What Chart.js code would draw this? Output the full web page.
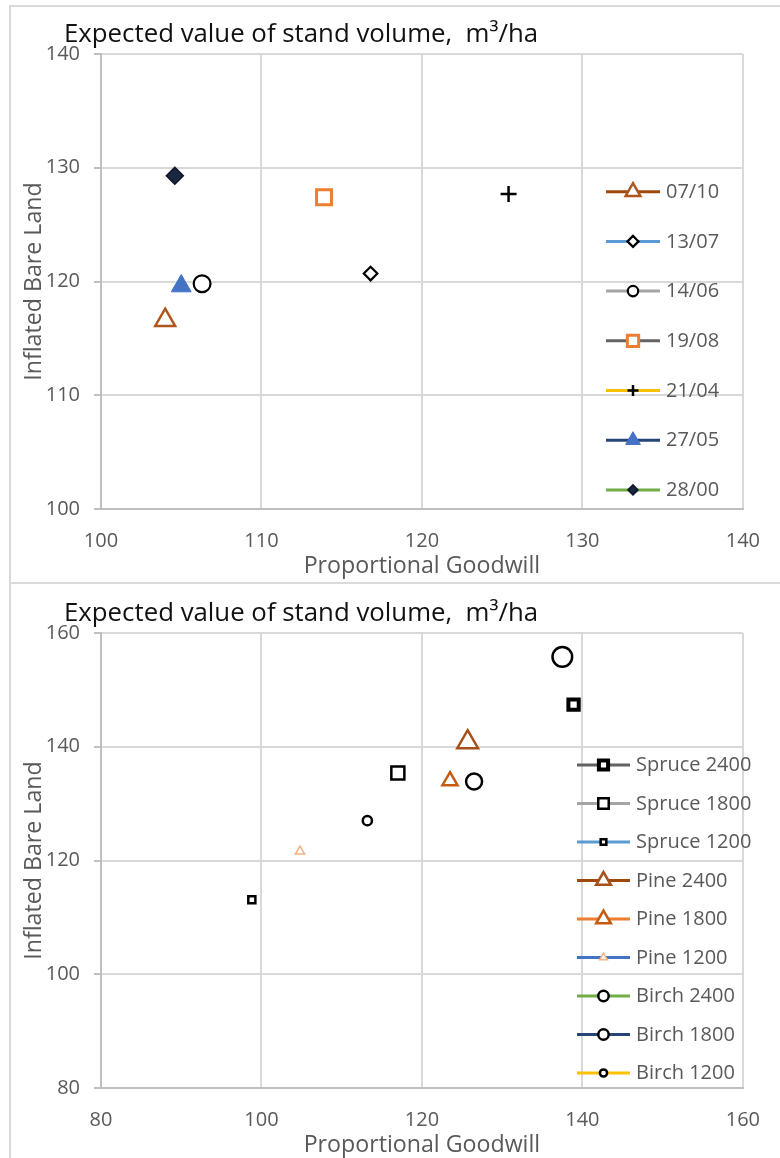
<!DOCTYPE html>
<html>
<head>
<meta charset="utf-8">
<script src="https://cdn.jsdelivr.net/npm/chart.js@4.4.1/dist/chart.umd.min.js"></script>
<style>
  html, body { margin: 0; padding: 0; background: #ffffff; width: 780px; height: 1158px; overflow: hidden; }
  .rule { position: absolute; background: #d9d9d9; }
  .panel { position: absolute; left: 0; width: 780px; height: 583px; }
</style>
</head>
<body>
<div class="rule" style="left:9px;top:5px;width:771px;height:2px"></div>
<div class="rule" style="left:9px;top:5px;width:2px;height:1153px"></div>
<div class="rule" style="left:9px;top:582px;width:771px;height:2px"></div>
<div class="panel" style="top:0"><canvas id="datesChart" width="780" height="583"></canvas></div>
<div class="panel" style="top:579px"><canvas id="standsChart" width="780" height="583"></canvas></div>
<script>
// Upper panel: stand by date
const dateLabels   = ['07/10', '13/07', '14/06', '19/08', '21/04', '27/05', '28/00'];
const dateGoodwill = [104.0, 116.8, 106.3, 113.9, 125.4, 105.0, 104.6];
const dateBareLand = [116.6, 120.7, 119.8, 127.4, 127.7, 119.6, 129.3];
const dateXTicks = [100, 110, 120, 130, 140];
const dateYTicks = [100, 110, 120, 130, 140];

// Lower panel: species and planting density
const standLabels   = ['Spruce 2400', 'Spruce 1800', 'Spruce 1200', 'Pine 2400', 'Pine 1800', 'Pine 1200', 'Birch 2400', 'Birch 1800', 'Birch 1200'];
const standGoodwill = [138.9, 117.0, 98.8, 125.7, 123.5, 104.8, 137.5, 126.5, 113.2];
const standBareLand = [147.4, 135.4, 113.1, 140.8, 134.0, 121.6, 155.8, 133.9, 127.0];
const standXTicks = [80, 100, 120, 140, 160];
const standYTicks = [80, 100, 120, 140, 160];

const panelTitle = 'Expected value of stand volume,  m\u00B3/ha';
const xTitle = 'Proportional Goodwill';
const yTitle = 'Inflated Bare Land';

const FONT = "'Open Sans'";

// Marker looks: legend line colour, marker shape, radius, border, legend marker radius
const dateStyles = [
  { line: '#9E480E', shape: 'triangle', r: 11.5, bw: 2.5, stroke: '#B0561C', fill: '#ffffff', lr: 8.5 },
  { line: '#5B9BD5', shape: 'rectRot',  r: 6.8,  bw: 2.2, stroke: '#000000', fill: '#ffffff', lr: 5.5 },
  { line: '#A5A5A5', shape: 'circle',   r: 8.4,  bw: 2.2, stroke: '#000000', fill: '#ffffff', lr: 5.2 },
  { line: '#636363', shape: 'rect',     r: 10.6, bw: 3,   stroke: '#ED7D31', fill: '#ffffff', lr: 8 },
  { line: '#FFC000', shape: 'cross',    r: 8,    bw: 2.5, stroke: '#000000', fill: '#000000', lr: 5.5 },
  { line: '#264478', shape: 'triangle', r: 11.5, bw: 1,   stroke: '#4472C4', fill: '#4472C4', lr: 8.5 },
  { line: '#70AD47', shape: 'rectRot',  r: 8.5,  bw: 1.5, stroke: '#0d1526', fill: '#1b2640', lr: 5 }
];
const standStyles = [
  { line: '#636363', shape: 'rect',     r: 7.3,  bw: 4,   stroke: '#000000', fill: '#ffffff', lr: 6.5 },
  { line: '#A5A5A5', shape: 'rect',     r: 9.2,  bw: 2.5, stroke: '#000000', fill: '#ffffff', lr: 7.4 },
  { line: '#5B9BD5', shape: 'rect',     r: 5,    bw: 2.5, stroke: '#000000', fill: '#ffffff', lr: 4 },
  { line: '#9E480E', shape: 'triangle', r: 12,   bw: 2.5, stroke: '#A8501A', fill: '#ffffff', lr: 8.5 },
  { line: '#ED7D31', shape: 'triangle', r: 8.7,  bw: 2.5, stroke: '#C55A11', fill: '#ffffff', lr: 8.5 },
  { line: '#4472C4', shape: 'triangle', r: 5.4,  bw: 1.5, stroke: '#F4B183', fill: '#ffffff', lr: 4.5 },
  { line: '#70AD47', shape: 'circle',   r: 9.8,  bw: 2.5, stroke: '#000000', fill: '#ffffff', lr: 5.2 },
  { line: '#264478', shape: 'circle',   r: 8,    bw: 2.5, stroke: '#000000', fill: '#ffffff', lr: 5.2 },
  { line: '#FFC000', shape: 'circle',   r: 4.6,  bw: 2.5, stroke: '#000000', fill: '#ffffff', lr: 3.6 }
];

Chart.defaults.font.family = FONT;
Chart.defaults.animation = false;

function titlePlugin() {
  return {
    id: 'panelTitle',
    afterDraw(chart) {
      const ctx = chart.ctx;
      ctx.save();
      ctx.font = '25.8px ' + FONT;
      ctx.fillStyle = '#111111';
      ctx.textAlign = 'left';
      ctx.textBaseline = 'alphabetic';
      ctx.fillText(panelTitle, 64, 42);
      ctx.restore();
    }
  };
}

function legendPlugin(styles, layout) {
  return {
    id: 'sideLegend',
    afterDatasetsDraw(chart) {
      const ctx = chart.ctx;
      ctx.save();
      chart.data.datasets.forEach((ds, i) => {
        const y = layout.top + i * layout.step;
        const st = styles[i];
        ctx.lineCap = 'butt';
        ctx.strokeStyle = ds.borderColor;
        ctx.lineWidth = 3;
        ctx.beginPath();
        ctx.moveTo(layout.x0, y);
        ctx.lineTo(layout.x1, y);
        ctx.stroke();
        ctx.fillStyle = st.fill;
        ctx.strokeStyle = st.stroke;
        ctx.lineWidth = st.bw;
        Chart.helpers.drawPoint(ctx, { pointStyle: st.shape, radius: st.lr, borderWidth: st.bw, rotation: 0 },
          (layout.x0 + layout.x1) / 2, y);
        ctx.fillStyle = '#595959';
        ctx.font = '20px ' + FONT;
        ctx.textAlign = 'left';
        ctx.textBaseline = 'middle';
        ctx.fillText(ds.label, layout.textX, y + 0.5);
      });
      ctx.restore();
    }
  };
}

function scatterPanel(canvasId, labels, xs, ys, styles, xTicks, yTicks, legendLayout) {
  const datasets = labels.map((label, i) => ({
    label: label,
    data: [{ x: xs[i], y: ys[i] }],
    showLine: false,
    borderColor: styles[i].line,
    backgroundColor: styles[i].fill,
    pointStyle: styles[i].shape,
    pointRadius: styles[i].r,
    pointBorderWidth: styles[i].bw,
    pointBorderColor: styles[i].stroke,
    pointBackgroundColor: styles[i].fill
  }));
  const tickFont = { family: FONT, size: 20 };
  const titleFont = { family: FONT, size: 23.2, lineHeight: 1.2 };
  return new Chart(document.getElementById(canvasId), {
    type: 'scatter',
    data: { datasets: datasets },
    options: {
      responsive: false,
      events: [],
      layout: { padding: { top: 54, right: 23, left: 0, bottom: 0 } },
      plugins: { legend: { display: false }, tooltip: { enabled: false } },
      scales: {
        x: {
          type: 'linear',
          min: xTicks[0],
          max: xTicks[xTicks.length - 1],
          afterBuildTicks: s => { s.ticks = xTicks.map(v => ({ value: v })); },
          afterFit: s => { s.height = 74; },
          grid: { color: '#d9d9d9', lineWidth: 2, drawTicks: false },
          border: { color: '#bfbfbf', width: 2 },
          ticks: { color: '#595959', font: tickFont, padding: 20, maxRotation: 0 },
          title: { display: true, text: xTitle, color: '#595959', font: titleFont, padding: { top: 0, bottom: 3 } }
        },
        y: {
          type: 'linear',
          min: yTicks[0],
          max: yTicks[yTicks.length - 1],
          afterBuildTicks: s => { s.ticks = yTicks.map(v => ({ value: v })); },
          afterFit: s => { s.width = 101; },
          grid: { color: '#d9d9d9', lineWidth: 2, drawTicks: true, tickLength: 7, tickColor: '#bfbfbf' },
          border: { color: '#bfbfbf', width: 2 },
          ticks: { color: '#595959', font: tickFont, padding: 14 },
          title: { display: true, text: yTitle, color: '#595959', font: titleFont, padding: { top: 20, bottom: 0 } }
        }
      }
    },
    plugins: [titlePlugin(), legendPlugin(styles, legendLayout)]
  });
}

scatterPanel('datesChart', dateLabels, dateGoodwill, dateBareLand, dateStyles, dateXTicks, dateYTicks,
  { x0: 606, x1: 660, textX: 666, top: 191.7, step: 49.7 });
scatterPanel('standsChart', standLabels, standGoodwill, standBareLand, standStyles, standXTicks, standYTicks,
  { x0: 577, x1: 630, textX: 636, top: 186, step: 38.5 });
</script>
</body>
</html>
